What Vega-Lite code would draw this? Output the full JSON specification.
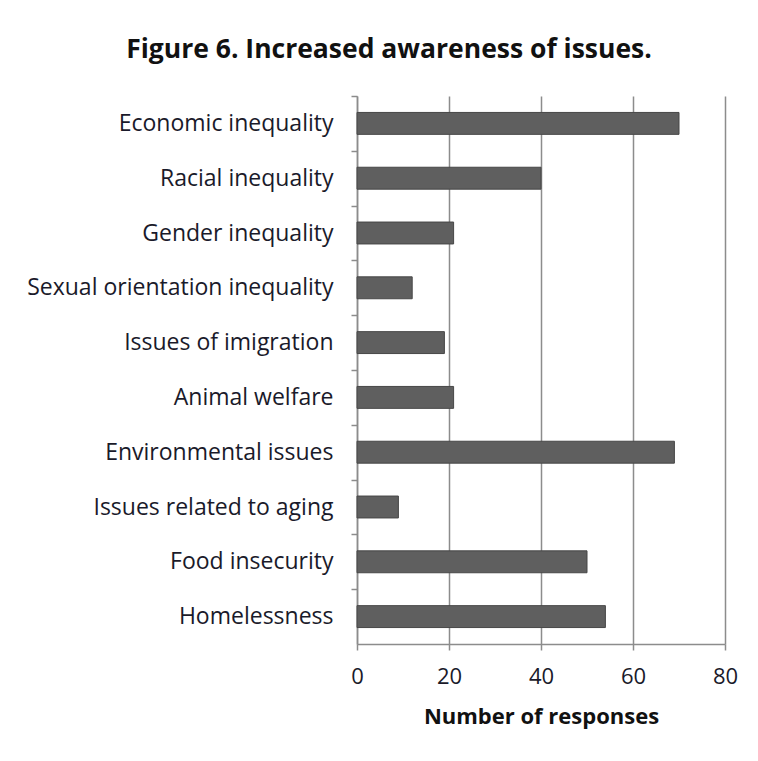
{
  "$schema": "https://vega.github.io/schema/vega-lite/v6.json",
  "width": 368,
  "height": 548,
  "autosize": {"type": "none"},
  "padding": {"left": 357, "top": 96, "right": 33, "bottom": 117},
  "background": "white",
  "title": {
    "text": "Figure 6. Increased awareness of issues.",
    "font": "Open Sans",
    "fontSize": 26.5,
    "fontWeight": "bold",
    "color": "#111111",
    "anchor": "middle",
    "dx": -152,
    "offset": 32
  },
  "data": {
    "values": [
      {"issue": "Economic inequality", "responses": 70},
      {"issue": "Racial inequality", "responses": 40},
      {"issue": "Gender inequality", "responses": 21},
      {"issue": "Sexual orientation inequality", "responses": 12},
      {"issue": "Issues of imigration", "responses": 19},
      {"issue": "Animal welfare", "responses": 21},
      {"issue": "Environmental issues", "responses": 69},
      {"issue": "Issues related to aging", "responses": 9},
      {"issue": "Food insecurity", "responses": 50},
      {"issue": "Homelessness", "responses": 54}
    ]
  },
  "mark": {"type": "bar", "color": "#5f5f5f", "stroke": "#474747", "strokeWidth": 1},
  "encoding": {
    "y": {
      "field": "issue",
      "type": "nominal",
      "sort": null,
      "scale": {"paddingInner": 0.6, "paddingOuter": 0.3},
      "axis": {
        "title": null,
        "bandPosition": 0,
        "tickOffset": -16.44,
        "labelOffset": 16.44,
        "ticks": true,
        "tickSize": 6,
        "tickColor": "#8c8c8c",
        "tickWidth": 1.5,
        "domainColor": "#8c8c8c",
        "domainWidth": 1.5,
        "labelFont": "Open Sans",
        "labelFontSize": 23,
        "labelColor": "#1a1a2a",
        "labelPadding": 18,
        "labelLimit": 400
      }
    },
    "x": {
      "field": "responses",
      "type": "quantitative",
      "scale": {"domain": [0, 80], "nice": false},
      "axis": {
        "title": "Number of responses",
        "titleFont": "Open Sans",
        "titleFontSize": 22,
        "titleFontWeight": "bold",
        "titleColor": "#111111",
        "titlePadding": 19,
        "values": [0, 20, 40, 60, 80],
        "grid": true,
        "gridColor": "#8c8c8c",
        "gridWidth": 1.5,
        "tickSize": 6,
        "tickColor": "#8c8c8c",
        "tickWidth": 1.5,
        "domainColor": "#8c8c8c",
        "domainWidth": 1.5,
        "labelFont": "Open Sans",
        "labelFontSize": 22,
        "labelFlush": false,
        "labelColor": "#1a1a2a",
        "labelPadding": 16
      }
    }
  },
  "config": {"view": {"stroke": null}}
}
